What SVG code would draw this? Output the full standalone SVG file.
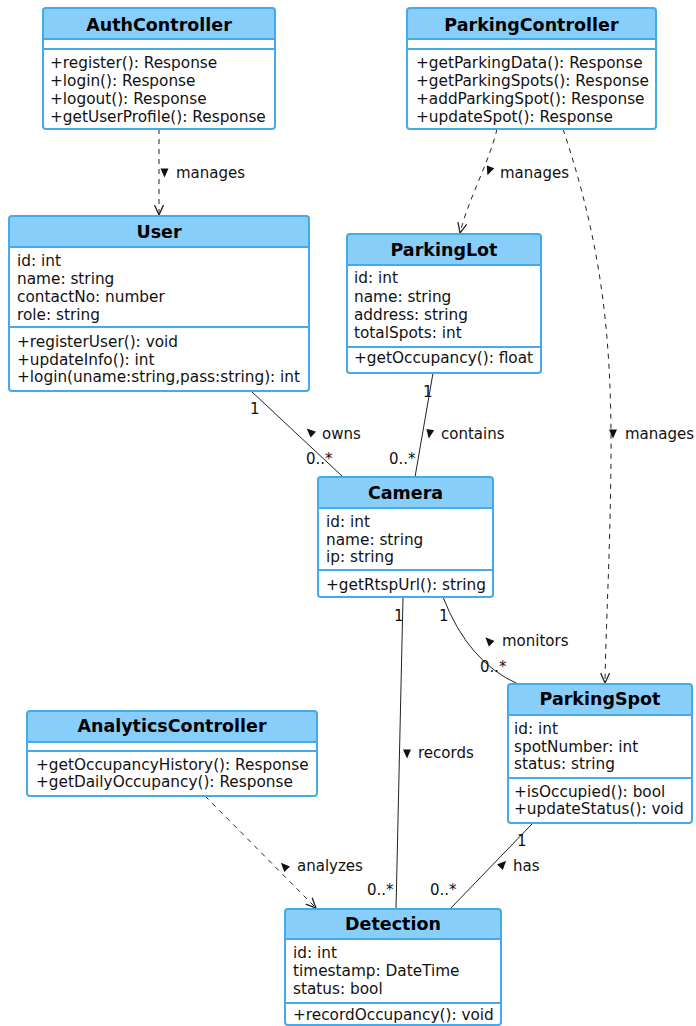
<svg xmlns="http://www.w3.org/2000/svg" width="696" height="1026" viewBox="0 0 696 1026">
  <style>
    .bg { fill: #ffffff; }
    .hd { fill: #87CEFA; }
    .body { fill: #ffffff; }
    .frame { fill: none; stroke: #45A9EA; stroke-width: 2; }
    .sep { stroke: #45A9EA; stroke-width: 2; }
    .title { font-family: "DejaVu Sans", "Liberation Sans", sans-serif; font-size: 17.5px; font-weight: bold; fill: #000; text-anchor: middle; }
    .mem { font-family: "DejaVu Sans", "Liberation Sans", sans-serif; font-size: 15.3px; fill: #111; }
    .lbl { font-family: "DejaVu Sans", "Liberation Sans", sans-serif; font-size: 15px; fill: #111; }
    .assoc { fill: none; stroke: #222; stroke-width: 1; }
    .dep { fill: none; stroke: #222; stroke-width: 1; stroke-dasharray: 5,5; marker-end: url(#open); }
    .dir { fill: #111; }
  </style>
  <defs>
    <marker id="open" viewBox="0 0 12 10" refX="10.5" refY="5" markerWidth="12" markerHeight="10" markerUnits="userSpaceOnUse" orient="auto">
      <path d="M0.5,0.5 L10.5,5 L0.5,9.5" fill="none" stroke="#222" stroke-width="1.3"/>
    </marker>
  </defs>
  <rect class="bg" x="0" y="0" width="696" height="1026"/>

  <!-- connectors -->
  <g id="connectors">
    <path class="dep" d="M159,129 L159,215"/>
    <path class="dep" d="M497,129 C490,160 468,200 460,233"/>
    <path class="dep" d="M563,129 C600,240 612,330 611,460 C610,560 606,620 605,683"/>
    <path class="assoc" d="M251,391 L343,477"/>
    <path class="assoc" d="M433,373 L415,477"/>
    <path class="assoc" d="M443,597 Q468,662 518,684"/>
    <path class="assoc" d="M403,597 L396,909"/>
    <path class="assoc" d="M533,823 L450,909"/>
    <path class="dep" d="M205,796 L316,908"/>

    <!-- label direction glyphs -->
    <polygon class="dir" points="164.5,177.5 160.5,168.5 168.5,168.5"/>
    <polygon class="dir" points="487.4,175.2 494.3,168.2 486.8,165.4"/>
    <polygon class="dir" points="613,438.5 609,429.5 617,429.5"/>
    <polygon class="dir" points="306.7,428.4 316,431.7 310.6,437.5"/>
    <polygon class="dir" points="428.7,438.4 434.2,430.3 426.4,428.9"/>
    <polygon class="dir" points="485.4,637.3 494.5,640.9 488.8,646.5"/>
    <polygon class="dir" points="407,758.5 403,749.5 411,749.5"/>
    <polygon class="dir" points="280.9,862.8 290,866.4 284.3,872"/>
    <polygon class="dir" points="506.1,860.8 502.8,870 497,864.4"/>

    <!-- labels -->
    <text class="lbl" x="176" y="178">manages</text>
    <text class="lbl" x="500" y="178">manages</text>
    <text class="lbl" x="625" y="439">manages</text>
    <text class="lbl" x="322" y="439">owns</text>
    <text class="lbl" x="441" y="439">contains</text>
    <text class="lbl" x="502" y="646">monitors</text>
    <text class="lbl" x="418" y="758">records</text>
    <text class="lbl" x="297" y="871">analyzes</text>
    <text class="lbl" x="513" y="871">has</text>

    <!-- multiplicities -->
    <text class="lbl" x="250" y="414">1</text>
    <text class="lbl" x="306" y="464">0..*</text>
    <text class="lbl" x="423" y="397">1</text>
    <text class="lbl" x="389" y="464">0..*</text>
    <text class="lbl" x="394" y="621">1</text>
    <text class="lbl" x="439" y="621">1</text>
    <text class="lbl" x="480" y="672">0..*</text>
    <text class="lbl" x="517" y="846">1</text>
    <text class="lbl" x="367" y="895">0..*</text>
    <text class="lbl" x="430" y="895">0..*</text>
  </g>

  <!-- AuthController -->
  <g id="AuthController">
    <rect class="hd" x="43" y="8" width="232" height="121" rx="3"/>
    <rect class="body" x="43" y="39" width="232" height="90"/>
    <line class="sep" x1="43" y1="39" x2="275" y2="39"/>
    <line class="sep" x1="43" y1="49" x2="275" y2="49"/>
    <rect class="frame" x="43" y="8" width="232" height="121" rx="3"/>
    <text class="title" x="159" y="31">AuthController</text>
    <text class="mem" x="50" y="68">+register(): Response</text>
    <text class="mem" x="50" y="86">+login(): Response</text>
    <text class="mem" x="50" y="104">+logout(): Response</text>
    <text class="mem" x="50" y="122">+getUserProfile(): Response</text>
  </g>

  <!-- ParkingController -->
  <g id="ParkingController">
    <rect class="hd" x="407" y="8" width="249" height="121" rx="3"/>
    <rect class="body" x="407" y="39" width="249" height="90"/>
    <line class="sep" x1="407" y1="39" x2="656" y2="39"/>
    <line class="sep" x1="407" y1="49" x2="656" y2="49"/>
    <rect class="frame" x="407" y="8" width="249" height="121" rx="3"/>
    <text class="title" x="531.5" y="31">ParkingController</text>
    <text class="mem" x="416" y="68">+getParkingData(): Response</text>
    <text class="mem" x="416" y="86">+getParkingSpots(): Response</text>
    <text class="mem" x="416" y="104">+addParkingSpot(): Response</text>
    <text class="mem" x="416" y="122">+updateSpot(): Response</text>
  </g>

  <!-- User -->
  <g id="User">
    <rect class="hd" x="9" y="216" width="300" height="175" rx="3"/>
    <rect class="body" x="9" y="247" width="300" height="144"/>
    <line class="sep" x1="9" y1="247" x2="309" y2="247"/>
    <line class="sep" x1="9" y1="327" x2="309" y2="327"/>
    <rect class="frame" x="9" y="216" width="300" height="175" rx="3"/>
    <text class="title" x="159" y="238">User</text>
    <text class="mem" x="17" y="266">id: int</text>
    <text class="mem" x="17" y="284">name: string</text>
    <text class="mem" x="17" y="302">contactNo: number</text>
    <text class="mem" x="17" y="320">role: string</text>
    <text class="mem" x="17" y="347">+registerUser(): void</text>
    <text class="mem" x="17" y="364.5">+updateInfo(): int</text>
    <text class="mem" x="17" y="382">+login(uname:string,pass:string): int</text>
  </g>

  <!-- ParkingLot -->
  <g id="ParkingLot">
    <rect class="hd" x="347" y="234" width="194" height="139" rx="3"/>
    <rect class="body" x="347" y="265" width="194" height="108"/>
    <line class="sep" x1="347" y1="265" x2="541" y2="265"/>
    <line class="sep" x1="347" y1="347" x2="541" y2="347"/>
    <rect class="frame" x="347" y="234" width="194" height="139" rx="3"/>
    <text class="title" x="444" y="256">ParkingLot</text>
    <text class="mem" x="354" y="283">id: int</text>
    <text class="mem" x="354" y="302">name: string</text>
    <text class="mem" x="354" y="320">address: string</text>
    <text class="mem" x="354" y="338">totalSpots: int</text>
    <text class="mem" x="354" y="363">+getOccupancy(): float</text>
  </g>

  <!-- Camera -->
  <g id="Camera">
    <rect class="hd" x="318" y="477" width="175" height="120" rx="3"/>
    <rect class="body" x="318" y="508" width="175" height="89"/>
    <line class="sep" x1="318" y1="508" x2="493" y2="508"/>
    <line class="sep" x1="318" y1="570" x2="493" y2="570"/>
    <rect class="frame" x="318" y="477" width="175" height="120" rx="3"/>
    <text class="title" x="405.5" y="499">Camera</text>
    <text class="mem" x="326" y="527">id: int</text>
    <text class="mem" x="326" y="545">name: string</text>
    <text class="mem" x="326" y="562">ip: string</text>
    <text class="mem" x="326" y="590">+getRtspUrl(): string</text>
  </g>

  <!-- ParkingSpot -->
  <g id="ParkingSpot">
    <rect class="hd" x="508" y="684" width="184" height="139" rx="3"/>
    <rect class="body" x="508" y="715" width="184" height="108"/>
    <line class="sep" x1="508" y1="715" x2="692" y2="715"/>
    <line class="sep" x1="508" y1="778" x2="692" y2="778"/>
    <rect class="frame" x="508" y="684" width="184" height="139" rx="3"/>
    <text class="title" x="600" y="705">ParkingSpot</text>
    <text class="mem" x="514" y="734">id: int</text>
    <text class="mem" x="514" y="752">spotNumber: int</text>
    <text class="mem" x="514" y="769">status: string</text>
    <text class="mem" x="514" y="797">+isOccupied(): bool</text>
    <text class="mem" x="514" y="814">+updateStatus(): void</text>
  </g>

  <!-- AnalyticsController -->
  <g id="AnalyticsController">
    <rect class="hd" x="27" y="711" width="290" height="85" rx="3"/>
    <rect class="body" x="27" y="742" width="290" height="54"/>
    <line class="sep" x1="27" y1="742" x2="317" y2="742"/>
    <line class="sep" x1="27" y1="751" x2="317" y2="751"/>
    <rect class="frame" x="27" y="711" width="290" height="85" rx="3"/>
    <text class="title" x="172" y="732">AnalyticsController</text>
    <text class="mem" x="36" y="770">+getOccupancyHistory(): Response</text>
    <text class="mem" x="36" y="787">+getDailyOccupancy(): Response</text>
  </g>

  <!-- Detection -->
  <g id="Detection">
    <rect class="hd" x="285" y="909" width="216" height="116" rx="3"/>
    <rect class="body" x="285" y="939" width="216" height="86"/>
    <line class="sep" x1="285" y1="939" x2="501" y2="939"/>
    <line class="sep" x1="285" y1="1003" x2="501" y2="1003"/>
    <rect class="frame" x="285" y="909" width="216" height="116" rx="3"/>
    <text class="title" x="393" y="930">Detection</text>
    <text class="mem" x="293" y="958">id: int</text>
    <text class="mem" x="293" y="976">timestamp: DateTime</text>
    <text class="mem" x="293" y="994">status: bool</text>
    <text class="mem" x="293" y="1020">+recordOccupancy(): void</text>
  </g>
</svg>
